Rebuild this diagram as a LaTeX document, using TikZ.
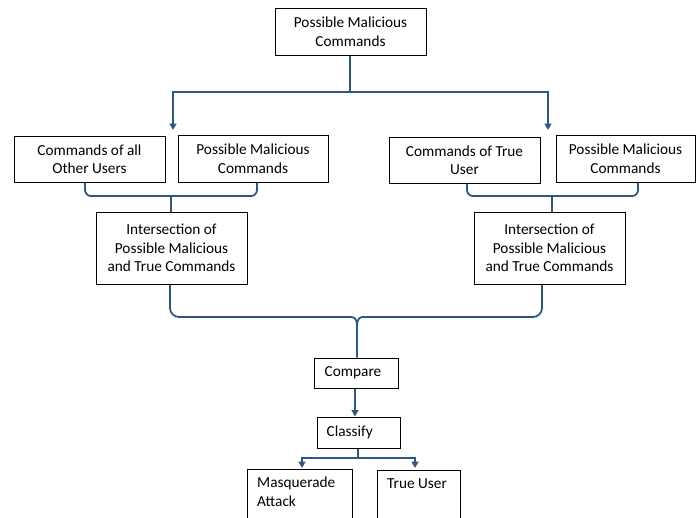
\documentclass[tikz,border=0pt]{standalone}
\usepackage{fontspec}
\setmainfont{Carlito}
\usetikzlibrary{arrows.meta,calc}
\definecolor{conn}{RGB}{47,88,128}
\begin{document}
\begin{tikzpicture}[x=1pt,y=-1pt,
  box/.style={draw=black,line width=1pt,inner sep=0pt,align=center,font=\fontsize{15.3}{18.5}\selectfont},
  lbl/.style={inner sep=0pt,align=left,anchor=north west,font=\fontsize{15.3}{18.5}\selectfont},
  conline/.style={draw=conn,line width=1.8pt},
  arr/.style={conline,-{Triangle[width=7pt,length=6.5pt]}},
  brace/.style={conline,rounded corners=6pt}]
\useasboundingbox (0,0) rectangle (696,517);
% boxes
\node[box,minimum width=151,minimum height=47] (top) at (350.5,31.5) {Possible Malicious\\Commands};
\node[box,minimum width=151,minimum height=46] (a1) at (89.5,159) {Commands of all\\Other Users};
\node[box,minimum width=150,minimum height=47] (a2) at (253,158.5) {Possible Malicious\\Commands};
\node[box,minimum width=151,minimum height=46] (b1) at (464.5,160) {Commands of True\\User};
\node[box,minimum width=139,minimum height=47] (b2) at (625.5,158.5) {Possible Malicious\\Commands};
\node[box,minimum width=151,minimum height=72] (i1) at (171.5,248) {Intersection of\\Possible Malicious\\and True Commands};
\node[box,minimum width=151,minimum height=72] (i2) at (549.5,248) {Intersection of\\Possible Malicious\\and True Commands};
\node[box,minimum width=84,minimum height=30] (cmp) at (356,373) {};
\node[lbl,anchor=west] (cmpt) at ($(cmp.west)+(11,0)$) {Compare};
\node[box,minimum width=83,minimum height=31] (cls) at (358.5,432.5) {};
\node[lbl,anchor=west] (clst) at ($(cls.west)+(10,0)$) {Classify};
\node[box,minimum width=105,minimum height=50,anchor=north west] (mas) at (247,469) {};
\node[lbl] (mast) at ($(mas.north west)+(10,8)$) {Masquerade\\Attack};
\node[box,minimum width=83,minimum height=49,anchor=north west] (tu) at (377,470) {};
\node[lbl] (tut) at ($(tu.north west)+(10,8)$) {True User};
% coordinates
\coordinate (tj) at (350,92);
\coordinate (la) at (173,130);
\coordinate (ra) at (548,130);
% top split
\draw[conline] (top.south -| tj) -- (tj);
\draw[arr] (tj) -| (la);
\draw[arr] (tj) -| (ra);
% small braces
\draw[brace] (85,0 |- a1.south) -- (85,196) -- (257,196) -- (257,0 |- a2.south);
\draw[conline] (171,0 |- i1.north) -- (171,196);
\draw[brace] (467,0 |- b1.south) -- (467,196) -- (638,196) -- (638,0 |- b2.south);
\draw[conline] (552,0 |- i2.north) -- (552,196);
% big brace
\draw[brace,rounded corners=9pt] (170,0 |- i1.south) -- (170,317) -- (352,317);
\draw[brace,rounded corners=9pt] (542,0 |- i2.south) -- (542,317) -- (362,317);
\draw[conline] (352,317) .. controls (357,318) and (357,322) .. (357,332) -- (357,0 |- cmp.north);
\draw[conline] (362,317) .. controls (357,318) and (357,322) .. (357,332);
% compare to classify
\draw[arr] (355,0 |- cmp.south) -- (355,0 |- cls.north);
% classify split
\coordinate (cj) at (358,458);
\draw[conline] (cls.south -| cj) -- (cj);
\draw[arr] (cj) -| (302,468);
\draw[arr] (cj) -| (415,468);
\end{tikzpicture}
\end{document}
